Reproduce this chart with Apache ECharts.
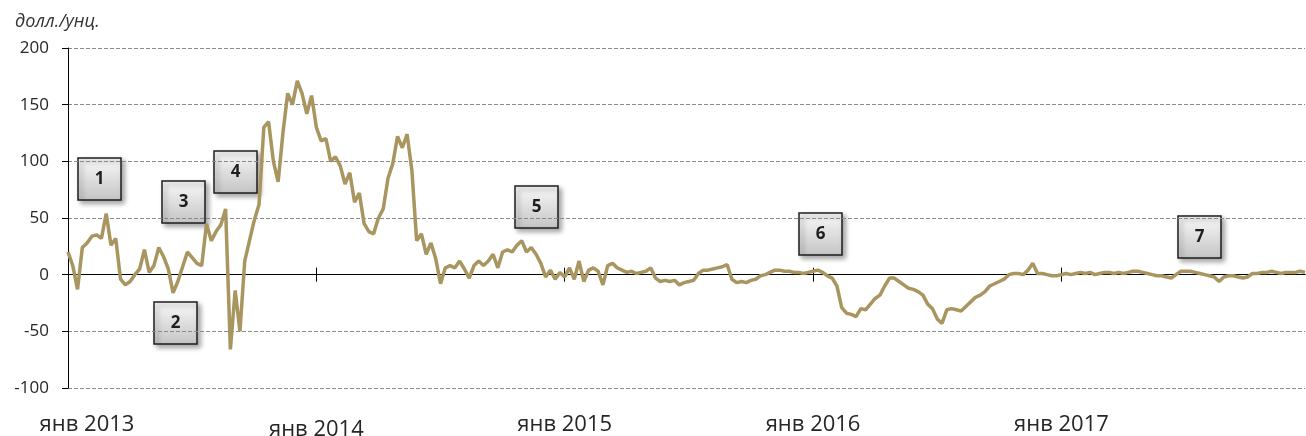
<!DOCTYPE html>
<html>
<head>
<meta charset="utf-8">
<title>Разница цен, долл./унц.</title>
<script src="https://cdn.jsdelivr.net/npm/echarts@6.0.0/dist/echarts.min.js"></script>
<style>
  html, body { margin: 0; padding: 0; background: #fff; }
  #chart { width: 1306px; height: 436px; }
</style>
</head>
<body>
<div id="chart"></div>
<script>
// недельные значения по годам, долл./унц.
const y2013 = [20, 8, -13, 24, 28, 34, 35, 32, 54, 26, 32, -4, -9,
  -6, 0, 5, 22, 2, 8, 24, 16, 5, -16, -6, 7, 20,
  15, 10, 8, 45, 30, 38, 44, 58, -66, -14, -50, 12, 30,
  48, 62, 130, 135, 100, 82, 125, 160, 150, 171, 160, 142, 158];
const y2014 = [130, 118, 120, 100, 104, 96, 80, 90, 64, 72, 45, 38, 36,
  50, 58, 85, 98, 122, 112, 124, 92, 30, 36, 18, 28, 14,
  -8, 6, 8, 6, 12, 5, -3, 8, 12, 8, 12, 18, 6,
  20, 22, 20, 26, 30, 20, 24, 18, 10, -2, 4, -4, 2];
const y2015 = [-2, 6, -4, 12, -6, 4, 6, 3, -9, 8, 10, 6, 4,
  2, 3, 1, 2, 3, 6, -3, -6, -5, -6, -5, -9, -7,
  -6, -5, 1, 4, 4, 5, 6, 7, 9, -4, -7, -6, -7,
  -5, -4, -1, 0, 2, 4, 4, 3, 3, 2, 2, 1, 2];
const y2016 = [3, 4, 2, -1, -3, -10, -29, -34, -35, -37, -30, -31, -26,
  -21, -18, -10, -3, -3, -6, -9, -12, -13, -15, -18, -26, -30,
  -39, -43, -31, -30, -31, -32, -28, -24, -20, -18, -15, -10, -8,
  -6, -4, 0, 1, 1, 0, 4, 10, 1, 1, 0, -1, -1];
const y2017 = [0, 1, 0, 1, 2, 1, 2, 0, 1, 2, 2, 1, 2,
  1, 2, 3, 3, 2, 1, 0, -1, -1, -2, -3, 0, 3,
  3, 3, 2, 1, 0, -1, -2, -6, -2, -1, -1, -2, -3,
  -2, 1, 1, 2, 2, 3, 2, 1, 2, 2, 2, 3, 2];

const yearLabels = ['янв 2013', 'янв 2014', 'янв 2015', 'янв 2016', 'янв 2017'];
const noteLabels = ['1', '2', '3', '4', '5', '6', '7'];

const values = [].concat(y2013, y2014, y2015, y2016, y2017);
// категории - начало каждой недели
const weeks = values.map((v, i) => new Date(Date.UTC(2013, 0, 1 + i * 7)).toISOString().slice(0, 10));
const WEEKS_PER_YEAR = 52;
const isYearStart = (i) => i % WEEKS_PER_YEAR === 0;

// рамки с номерами (левый верхний угол в пикселях)
const noteBoxes = [[78, 158], [154, 302], [162, 181], [214, 151], [515, 186], [799, 213], [1178, 216]];
const BOX_W = 43, BOX_H = 42;

const FONT = '"Open Sans", "Noto Sans", sans-serif';
const chart = echarts.init(document.getElementById('chart'));

const zeroAxis = (inside) => ({
  type: 'category',
  data: weeks,
  boundaryGap: false,
  position: 'bottom',
  axisLine: { onZero: true, onZeroAxisIndex: 0, lineStyle: { color: '#000', width: 1 } },
  axisTick: { show: true, inside: inside, length: 7, interval: (i) => isYearStart(i), lineStyle: { color: '#000', width: 1 } },
  axisLabel: { show: false },
  splitLine: { show: false }
});

const option = {
  animation: false,
  title: {
    text: 'долл./унц.',
    left: 10,
    top: 8,
    textStyle: { fontFamily: FONT, fontStyle: 'italic', fontWeight: 'normal', fontSize: 18, color: '#333' }
  },
  grid: { left: 68, right: 1, top: 48, bottom: 48, containLabel: false, outerBoundsMode: 'none' },
  xAxis: [
    {
      type: 'category',
      data: weeks,
      boundaryGap: false,
      position: 'bottom',
      axisLine: { show: false, onZero: false },
      axisTick: { show: false },
      splitLine: { show: false },
      axisLabel: {
        interval: (i) => isYearStart(i),
        margin: 26,
        fontFamily: FONT,
        fontSize: 22,
        color: '#262626',
        formatter: (val, i) => {
          const t = yearLabels[i / WEEKS_PER_YEAR] || '';
          if (i === 0) return '{first|' + t + '}';
          if (i === WEEKS_PER_YEAR) return '{low|' + t + '}';
          return '{n|' + t + '}';
        },
        rich: {
          n: { fontFamily: FONT, fontSize: 22, color: '#262626' },
          first: { fontFamily: FONT, fontSize: 22, color: '#262626', padding: [0, 0, 0, 38] },
          low: { fontFamily: FONT, fontSize: 22, color: '#262626', padding: [5, 0, 0, 0] }
        }
      }
    },
    zeroAxis(false),
    zeroAxis(true)
  ],
  yAxis: {
    type: 'value',
    min: -100,
    max: 200,
    interval: 50,
    axisLine: { show: true, lineStyle: { color: '#000', width: 1 } },
    axisTick: { show: true, length: 6, lineStyle: { color: '#000' } },
    axisLabel: { margin: 19, fontFamily: FONT, fontSize: 17, color: '#262626' },
    splitLine: { show: true, lineStyle: { color: '#8a8a8a', width: 1, type: [4, 2] } }
  },
  series: [{
    type: 'line',
    data: values,
    xAxisIndex: 0,
    yAxisIndex: 0,
    showSymbol: false,
    lineStyle: { color: '#a8955f', width: 3.5 },
    z: 5
  }],
  graphic: noteBoxes.map((p, k) => ({
    type: 'group',
    x: p[0],
    y: p[1],
    z: 100,
    children: [
      {
        type: 'rect',
        shape: { x: 0, y: 0, width: BOX_W, height: BOX_H },
        style: {
          fill: { type: 'linear', x: 0, y: 0, x2: 0, y2: 1, colorStops: [{ offset: 0, color: '#f9f9f9' }, { offset: 1, color: '#c4c4c4' }] },
          stroke: '#1e1e1e',
          lineWidth: 1.5,
          shadowBlur: 5,
          shadowOffsetX: 3,
          shadowOffsetY: 3,
          shadowColor: 'rgba(0,0,0,0.35)'
        }
      },
      {
        type: 'text',
        x: BOX_W / 2,
        y: BOX_H / 2,
        style: {
          text: noteLabels[k],
          fontFamily: FONT,
          fontWeight: 'bold',
          fontSize: 17,
          fill: '#1e1e1e',
          align: 'center',
          verticalAlign: 'middle'
        }
      }
    ]
  }))
};

chart.setOption(option);
</script>
</body>
</html>
